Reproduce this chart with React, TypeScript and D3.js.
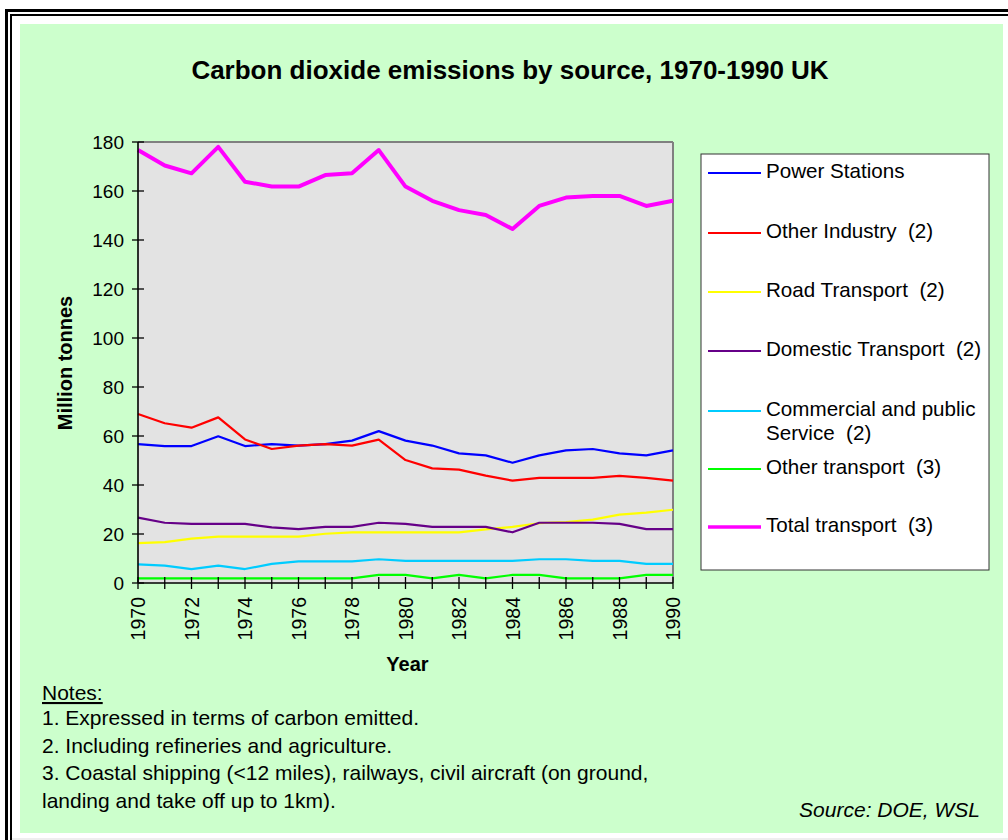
import React from "react";
import * as d3 from "d3";

const years = [1970, 1971, 1972, 1973, 1974, 1975, 1976, 1977, 1978, 1979, 1980, 1981, 1982, 1983, 1984, 1985, 1986, 1987, 1988, 1989, 1990];
const yearLabels = [1970, 1972, 1974, 1976, 1978, 1980, 1982, 1984, 1986, 1988, 1990];
const yTicks = [0, 20, 40, 60, 80, 100, 120, 140, 160, 180];

const powerStations = [56.7, 55.9, 55.9, 59.9, 55.9, 56.7, 56.1, 56.7, 58.1, 62.0, 58.1, 56.1, 52.9, 52.1, 49.1, 52.1, 54.1, 54.7, 52.9, 52.1, 54.1];
const otherIndustry = [69.0, 65.2, 63.4, 67.6, 58.6, 54.7, 56.1, 56.7, 56.1, 58.5, 50.2, 46.8, 46.3, 43.8, 41.8, 42.9, 42.9, 42.9, 43.7, 42.9, 41.8];
const roadTransport = [16.3, 16.7, 18.1, 18.9, 18.9, 18.9, 18.9, 20.1, 20.7, 20.7, 20.7, 20.7, 20.7, 21.9, 22.9, 24.4, 24.9, 25.9, 27.9, 28.7, 29.9];
const domesticTransport = [26.7, 24.6, 24.1, 24.1, 24.1, 22.7, 22.0, 22.9, 22.9, 24.6, 24.1, 22.9, 22.9, 22.9, 20.7, 24.6, 24.6, 24.6, 24.1, 22.0, 22.0];
const commercialPublic = [7.6, 7.1, 5.7, 7.1, 5.7, 7.8, 8.8, 8.8, 8.8, 9.7, 9.0, 9.0, 9.0, 9.0, 9.0, 9.7, 9.7, 9.0, 9.0, 7.8, 7.8];
const otherTransport = [1.9, 1.9, 1.9, 1.9, 1.9, 1.9, 1.9, 1.9, 1.9, 3.3, 3.3, 1.9, 3.3, 1.9, 3.3, 3.3, 1.9, 1.9, 1.9, 3.3, 3.3];
const totalTransport = [176.7, 170.4, 167.2, 178.0, 163.8, 161.8, 161.8, 166.5, 167.2, 176.7, 161.8, 156.0, 152.2, 150.2, 144.5, 153.9, 157.3, 158.0, 158.0, 153.9, 156.0];

const seriesNames = [
  ["Power Stations"],
  ["Other Industry\u00a0\u00a0(2)"],
  ["Road Transport\u00a0\u00a0(2)"],
  ["Domestic Transport\u00a0\u00a0(2)"],
  ["Commercial and public", "Service\u00a0\u00a0(2)"],
  ["Other transport\u00a0\u00a0(3)"],
  ["Total transport\u00a0\u00a0(3)"],
];
const seriesValues = [powerStations, otherIndustry, roadTransport, domesticTransport, commercialPublic, otherTransport, totalTransport];
const seriesColors = ["#0000FF", "#FF0000", "#FFFF00", "#660088", "#00CCFF", "#00FF00", "#FF00FF"];

const noteLines = [
  "1. Expressed in terms of carbon emitted.",
  "2. Including refineries and agriculture.",
  "3. Coastal shipping (<12 miles), railways, civil aircraft (on ground,",
  "landing and take off up to 1km).",
];

const FONT = "'Liberation Sans', Arial, Helvetica, sans-serif";

export default function App() {
  const W = 1008;
  const H = 840;
  const plot = { left: 138, right: 673, top: 142, bottom: 583 };

  const x = d3.scaleLinear().domain([1970, 1990]).range([plot.left, plot.right]);
  const y = d3.scaleLinear().domain([0, 180]).range([plot.bottom, plot.top]);

  const line = d3
    .line<number>()
    .x((_, i) => x(years[i]))
    .y((d) => y(d));

  const legend = { left: 701, top: 154, right: 989, bottom: 570 };
  const legendRowY = [173, 233, 292, 351, 411, 469, 527];

  return (
    <svg
      width={W}
      height={H}
      viewBox={`0 0 ${W} ${H}`}
      style={{ position: "absolute", left: 0, top: 0, display: "block" }}
      fontFamily={FONT}
    >
      <rect x={0} y={0} width={W} height={H} fill="#FFFFFF" />
      {/* double frame */}
      <line x1={5} y1={10.5} x2={W} y2={10.5} stroke="#000" strokeWidth={3} />
      <line x1={6.5} y1={9} x2={6.5} y2={H} stroke="#000" strokeWidth={3} />
      <line x1={10} y1={15} x2={W} y2={15} stroke="#000" strokeWidth={2} />
      <line x1={11} y1={14} x2={11} y2={H} stroke="#000" strokeWidth={2} />
      <line x1={12} y1={839} x2={W} y2={839} stroke="#DDDDDD" strokeWidth={1} />

      {/* panel background */}
      <rect x={20} y={24} width={983} height={809} fill="#CCFFCC" />

      <text x={510} y={79} textAnchor="middle" fontSize={26} fontWeight="bold" fill="#000">
        Carbon dioxide emissions by source, 1970-1990 UK
      </text>

      {/* plot area */}
      <rect
        x={plot.left}
        y={plot.top}
        width={plot.right - plot.left}
        height={plot.bottom - plot.top}
        fill="#E3E3E3"
      />
      <line x1={plot.left} y1={plot.top} x2={plot.right} y2={plot.top} stroke="#808080" strokeWidth={2} />
      <line x1={plot.right} y1={plot.top} x2={plot.right} y2={plot.bottom} stroke="#808080" strokeWidth={2} />

      {/* series */}
      {seriesValues.map((vals, i) => (
        <path
          key={i}
          d={line(vals) || ""}
          fill="none"
          stroke={seriesColors[i]}
          strokeWidth={i === 6 ? 4 : 2.2}
          strokeLinejoin="round"
        />
      ))}

      {/* axes */}
      <line x1={plot.left} y1={plot.top} x2={plot.left} y2={plot.bottom} stroke="#000" strokeWidth={1.6} />
      <line x1={plot.left} y1={plot.bottom} x2={plot.right} y2={plot.bottom} stroke="#000" strokeWidth={1.6} />
      {yTicks.map((t) => (
        <g key={t}>
          <line x1={plot.left - 6} x2={plot.left + 6} y1={y(t)} y2={y(t)} stroke="#000" strokeWidth={1.3} />
          <text x={124} y={y(t) + 7} textAnchor="end" fontSize={19} fill="#000">
            {t}
          </text>
        </g>
      ))}
      {years.map((yr) => (
        <line key={yr} x1={x(yr)} x2={x(yr)} y1={plot.bottom - 6} y2={plot.bottom + 6} stroke="#000" strokeWidth={1.3} />
      ))}
      {yearLabels.map((yr) => (
        <text
          key={yr}
          transform={`translate(${x(yr) + 7},597) rotate(-90)`}
          textAnchor="end"
          fontSize={19.5}
          fill="#000"
        >
          {yr}
        </text>
      ))}

      <text x={(plot.left + plot.right) / 2 + 2} y={671} textAnchor="middle" fontSize={20} fontWeight="bold" fill="#000">
        Year
      </text>
      <text
        transform={`translate(72,363) rotate(-90)`}
        textAnchor="middle"
        fontSize={20}
        fontWeight="bold"
        fill="#000"
      >
        Million tonnes
      </text>

      {/* legend */}
      <rect
        x={legend.left}
        y={legend.top}
        width={legend.right - legend.left}
        height={legend.bottom - legend.top}
        fill="#FFFFFF"
        stroke="#333333"
        strokeWidth={1}
      />
      {seriesNames.map((lines, i) => (
        <g key={i}>
          <line
            x1={708}
            x2={761}
            y1={legendRowY[i]}
            y2={legendRowY[i]}
            stroke={seriesColors[i]}
            strokeWidth={i === 6 ? 3.5 : 2}
          />
          {lines.map((s, j) => (
            <text key={j} x={766} y={legendRowY[i] + 5 + j * 24} fontSize={20.6} fill="#000">
              {s}
            </text>
          ))}
        </g>
      ))}

      {/* notes */}
      <text x={42} y={700} fontSize={21} fill="#000" textDecoration="underline">
        Notes:
      </text>
      {noteLines.map((s, i) => (
        <text key={i} x={42} y={725 + i * 27.5} fontSize={21} fill="#000">
          {s}
        </text>
      ))}
      <text x={980} y={817} textAnchor="end" fontSize={21} fontStyle="italic" fill="#000">
        Source: DOE, WSL
      </text>
    </svg>
  );
}
